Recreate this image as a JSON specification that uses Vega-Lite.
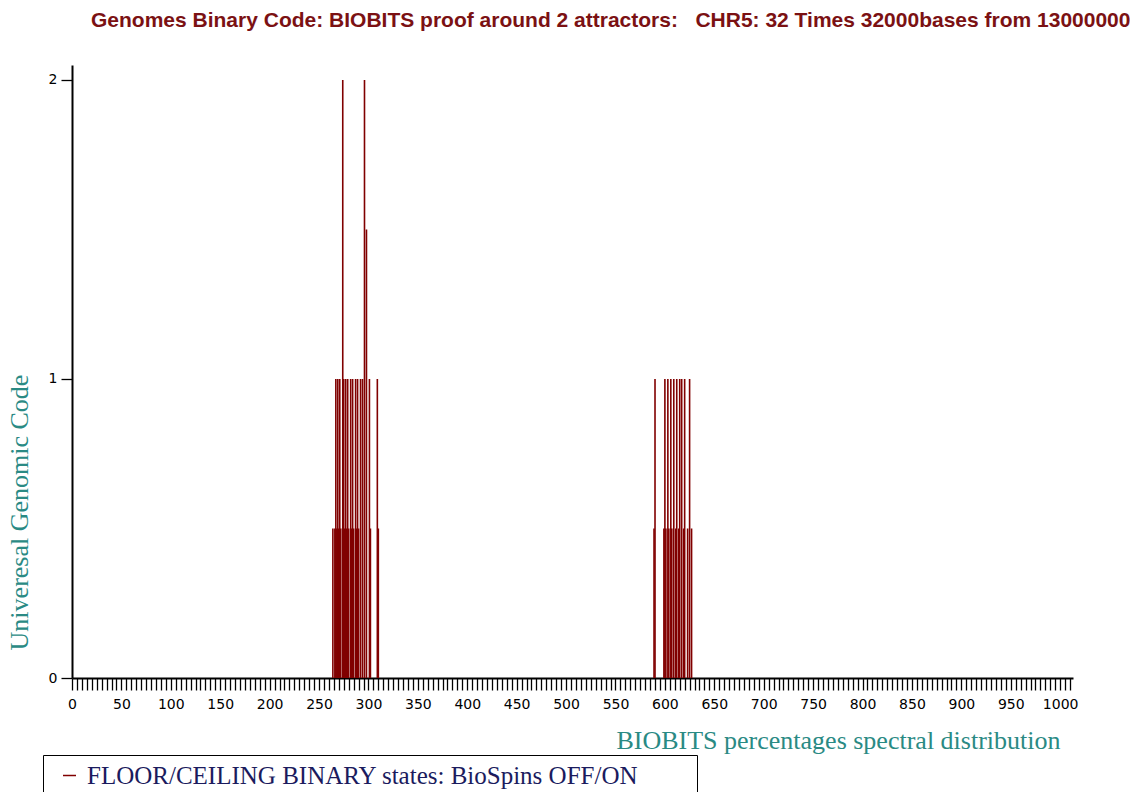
{
  "$schema": "https://vega.github.io/schema/vega-lite/v6.json",
  "autosize": "none",
  "width": 1001,
  "height": 613,
  "padding": {"left": 72, "top": 65, "right": 57, "bottom": 114},
  "background": "white",
  "config": {"view": {"stroke": null}},
  "title": {
    "text": "Genomes Binary Code: BIOBITS proof around 2 attractors:\u00a0\u00a0 CHR5: 32 Times 32000bases from 13000000",
    "anchor": "start",
    "frame": "group",
    "dx": 19,
    "offset": 34,
    "font": "Liberation Sans",
    "fontSize": 21,
    "fontWeight": "bold",
    "color": "#7b1113"
  },
  "data": {
    "values": [
      {"x": 264, "v": 0.5}, {"x": 266, "v": 0.5}, {"x": 268, "v": 0.5}, {"x": 270, "v": 0.5},
      {"x": 272, "v": 0.5}, {"x": 276, "v": 0.5}, {"x": 278, "v": 0.5}, {"x": 280, "v": 0.5},
      {"x": 283, "v": 0.5}, {"x": 285, "v": 0.5}, {"x": 288, "v": 0.5}, {"x": 290, "v": 0.5},
      {"x": 302, "v": 0.5}, {"x": 310, "v": 0.5},
      {"x": 267, "v": 1}, {"x": 269, "v": 1}, {"x": 271, "v": 1}, {"x": 275, "v": 1},
      {"x": 277, "v": 1}, {"x": 279, "v": 1}, {"x": 282, "v": 1}, {"x": 284, "v": 1},
      {"x": 287, "v": 1}, {"x": 289, "v": 1}, {"x": 292, "v": 1}, {"x": 294, "v": 1},
      {"x": 301, "v": 1}, {"x": 309, "v": 1},
      {"x": 274, "v": 2}, {"x": 296, "v": 2}, {"x": 298, "v": 1.5},
      {"x": 589, "v": 0.5}, {"x": 599, "v": 0.5}, {"x": 601, "v": 0.5}, {"x": 604, "v": 0.5},
      {"x": 607, "v": 0.5}, {"x": 611, "v": 0.5}, {"x": 614, "v": 0.5}, {"x": 619, "v": 0.5},
      {"x": 623, "v": 0.5}, {"x": 627, "v": 0.5},
      {"x": 590, "v": 1}, {"x": 600, "v": 1}, {"x": 603, "v": 1}, {"x": 606, "v": 1},
      {"x": 609, "v": 1}, {"x": 612, "v": 1}, {"x": 615, "v": 1}, {"x": 617, "v": 1},
      {"x": 620, "v": 1}, {"x": 625, "v": 1}
    ]
  },
  "mark": {"type": "rule", "strokeWidth": 1.6},
  "encoding": {
    "x": {
      "field": "x",
      "type": "quantitative",
      "scale": {"domain": [0, 1013], "nice": false, "zero": false},
      "axis": {
        "tickCount": 202,
        "format": "d",
        "labelExpr": "datum.value % 50 === 0 ? datum.label : ''",
        "labelOverlap": false,
        "labelFlush": false,
        "grid": false,
        "domainColor": "black",
        "domainWidth": 2,
        "tickColor": "black",
        "tickWidth": 1.3,
        "tickSize": 12,
        "labelFont": "DejaVu Sans",
        "labelFontSize": 14,
        "labelColor": "black",
        "labelPadding": 7,
        "title": "BIOBITS percentages spectral distribution",
        "titleFont": "Liberation Serif",
        "titleFontSize": 26,
        "titleFontWeight": "normal",
        "titleColor": "#2a8a84",
        "titleX": 988,
        "titleY": 70,
        "titleAlign": "right",
        "titleBaseline": "alphabetic"
      }
    },
    "y": {
      "field": "v",
      "type": "quantitative",
      "scale": {"domain": [0, 2.05], "nice": false},
      "axis": {
        "tickCount": 2,
        "format": "d",
        "grid": false,
        "domainColor": "black",
        "domainWidth": 2,
        "tickColor": "black",
        "tickWidth": 1.3,
        "tickSize": 11,
        "labelFont": "DejaVu Sans",
        "labelFontSize": 14,
        "labelColor": "black",
        "labelPadding": 4,
        "title": "Univeresal Genomic Code",
        "titleFont": "Liberation Serif",
        "titleFontSize": 26,
        "titleFontWeight": "normal",
        "titleColor": "#2a8a84",
        "titleX": -45,
        "titleY": 447,
        "titleAngle": -90,
        "titleAlign": "center",
        "titleBaseline": "alphabetic"
      }
    },
    "y2": {"datum": 0},
    "color": {
      "datum": "FLOOR/CEILING BINARY states: BioSpins OFF/ON",
      "type": "nominal",
      "scale": {"range": ["#800000"]},
      "legend": {
        "title": null,
        "orient": "none",
        "legendX": -29,
        "legendY": 690,
        "padding": 8,
        "strokeColor": "black",
        "fillColor": "white",
        "symbolType": "stroke",
        "symbolSize": 169,
        "symbolStrokeWidth": 1.5,
        "symbolOffset": 6,
        "labelOffset": 5,
        "labelFont": "Liberation Serif",
        "labelFontSize": 25,
        "labelColor": "#1b1b5e",
        "labelLimit": 900,
        "labelExpr": "datum.label + '\u00a0\u00a0\u00a0\u00a0\u00a0\u00a0\u00a0\u00a0\u200b'"
      }
    }
  }
}
